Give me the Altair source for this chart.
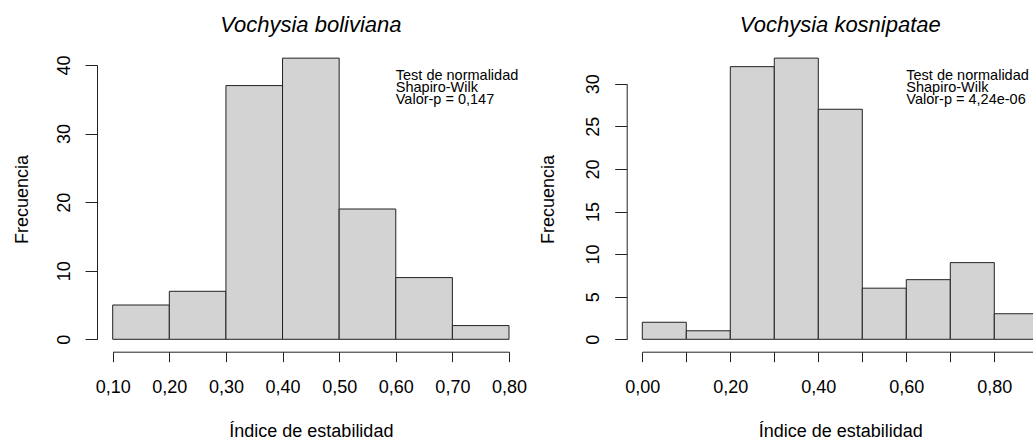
import altair as alt
import pandas as pd

# ---- data ----
bol_start = [0.1, 0.2, 0.3, 0.4, 0.5, 0.6, 0.7]
bol_end = [0.2, 0.3, 0.4, 0.5, 0.6, 0.7, 0.8]
bol_count = [5, 7, 37, 41, 19, 9, 2]

kos_start = [0.0, 0.1, 0.2, 0.3, 0.4, 0.5, 0.6, 0.7, 0.8]
kos_end = [0.1, 0.2, 0.3, 0.4, 0.5, 0.6, 0.7, 0.8, 0.9]
kos_count = [2, 1, 32, 33, 27, 6, 7, 9, 3]

bol_xticks = [0.1, 0.2, 0.3, 0.4, 0.5, 0.6, 0.7, 0.8]
kos_xticks = [0.0, 0.1, 0.2, 0.3, 0.4, 0.5, 0.6, 0.7, 0.8, 0.9]
bol_yticks = [0, 10, 20, 30, 40]
kos_yticks = [0, 5, 10, 15, 20, 25, 30]

titles = ["Vochysia boliviana", "Vochysia kosnipatae"]
notes = [
    "Test de normalidad\nShapiro-Wilk\nValor-p = 0,147",
    "Test de normalidad\nShapiro-Wilk\nValor-p = 4,24e-06",
]
x_title = "Índice de estabilidad"
y_title = "Frecuencia"

FONT = "Liberation Sans"
LINE = "#222222"


def panel(starts, ends, counts, xdom, xrange, xticks, ydom, yrange, yticks,
          title, note, yaxis_offset, ytitle_x, label_even_only):
    df = pd.DataFrame({"start": starts, "end": ends, "count": counts})
    if label_even_only:
        lab = ("(round(datum.value*10) % 2 == 0) ? "
               "replace(format(datum.value, '.2f'), '.', ',') : ''")
    else:
        lab = "replace(format(datum.value, '.2f'), '.', ',')"
    xscale = alt.Scale(domain=xdom, range=xrange, nice=False, zero=False, padding=0)
    yscale = alt.Scale(domain=ydom, range=yrange, nice=False, zero=True, padding=0)
    xaxis = alt.Axis(
        orient="bottom", offset=-88.3, values=xticks, labelExpr=lab,
        tickSize=10, tickColor=LINE, domainColor=LINE, tickWidth=1, domainWidth=1,
        labelFont=FONT, labelFontSize=18, labelColor="#000000",
        labelBaseline="top", labelPadding=17, labelFlush=False, labelOverlap=False,
        title=x_title, titleFont=FONT, titleFontSize=18, titleFontWeight="normal",
        titleColor="#000000", titleBaseline="alphabetic", titleY=85, grid=False,
    )
    yaxis = alt.Axis(
        orient="left", offset=yaxis_offset, values=yticks, format="d",
        tickSize=12, tickColor=LINE, domainColor=LINE, tickWidth=1, domainWidth=1,
        labelFont=FONT, labelFontSize=18, labelColor="#000000",
        labelAngle=-90, labelAlign="center", labelBaseline="alphabetic",
        labelPadding=16, labelFlush=False, labelOverlap=False,
        title=y_title, titleFont=FONT, titleFontSize=18, titleFontWeight="normal",
        titleColor="#000000", titleAngle=270, titleBaseline="alphabetic",
        titleAlign="center", titleX=ytitle_x, titleY=199, grid=False,
    )
    bars = alt.Chart(df).mark_bar(
        fill="#D3D3D3", stroke=LINE, strokeWidth=1, opacity=1, orient="vertical"
    ).encode(
        x=alt.X("start:Q", scale=xscale, axis=xaxis),
        x2="end:Q",
        y=alt.Y("count:Q", scale=yscale, axis=yaxis),
        y2=alt.datum(0),
    )

    # pixel placement of the panel title and note (same linear map as the x scale)
    def px(v):
        return xrange[0] + (v - xdom[0]) / (xdom[1] - xdom[0]) * (xrange[1] - xrange[0])

    mid = (xdom[0] + xdom[1]) / 2
    ttl = alt.Chart(pd.DataFrame({"t": [title]})).mark_text(
        font=FONT, fontSize=22, fontStyle="italic", baseline="alphabetic",
        align="center", color="#000000"
    ).encode(
        x=alt.value(px(mid)),
        y=alt.value(31.7),
        text="t:N",
    )
    nt = alt.Chart(pd.DataFrame({"t": [note]})).mark_text(
        font=FONT, fontSize=14.5, lineBreak="\n", lineHeight=12.2,
        baseline="alphabetic", align="left", color="#000000"
    ).encode(
        x=alt.value(px(0.6)),
        y=alt.value(80),
        text="t:N",
    )
    return alt.layer(bars, ttl, nt)


left = panel(bol_start, bol_end, bol_count, [0.1, 0.8], [112.7, 509.0],
             bol_xticks, [0, 40], [339.3, 65.0], bol_yticks,
             titles[0], notes[0], -97, -69.7, False)
right = panel(kos_start, kos_end, kos_count, [0.0, 0.9], [642.3, 1038.3],
              kos_xticks, [0, 30], [339.3, 83.7], kos_yticks,
              titles[1], notes[1], -626.7, -73.4, True)

chart = alt.layer(left, right).resolve_scale(
    x="independent", y="independent"
).properties(
    width=1033, height=440, padding=0,
    autosize=alt.AutoSizeParams(type="none"),
    background="#FFFFFF",
).configure_view(strokeWidth=0)

chart.save("out.html", embed_options={"renderer": "svg", "actions": False})
